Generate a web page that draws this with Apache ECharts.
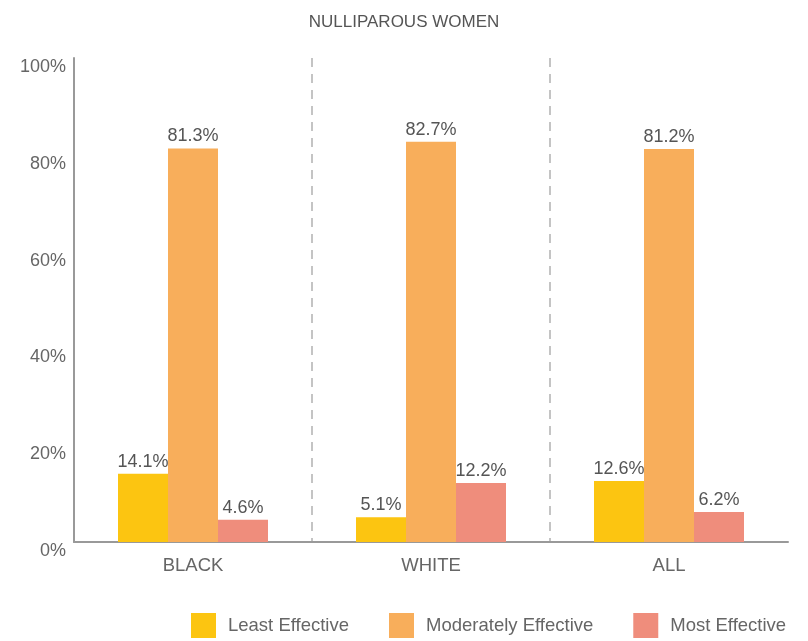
<!DOCTYPE html>
<html>
<head>
<meta charset="utf-8">
<script src="https://cdn.jsdelivr.net/npm/echarts@6/dist/echarts.min.js"></script>
<style>
  html, body { margin: 0; padding: 0; background: #fff; }
  #chart { width: 808px; height: 641px; }
</style>
</head>
<body>
<div id="chart"></div>
<script>
const FONT = "'Liberation Sans', Arial, sans-serif"

// data
const categories = ['BLACK', 'WHITE', 'ALL']
const leastEffective = [14.1, 5.1, 12.6]
const moderatelyEffective = [81.3, 82.7, 81.2]
const mostEffective = [4.6, 12.2, 6.2]
const seriesNames = ['Least Effective', 'Moderately Effective', 'Most Effective']
const seriesColors = ['#FCC511', '#F8AE5B', '#EF8D7C']

const chart = echarts.init(document.getElementById('chart'))

const makeBar = (name, values, color) => ({
  name,
  type: 'bar',
  barWidth: 50,
  barGap: '0%',
  itemStyle: { color },
  label: {
    show: true,
    position: 'top',
    distance: 3,
    formatter: p => p.value.toFixed(1) + '%',
    color: '#555',
    fontSize: 18,
    fontFamily: FONT,
  },
  data: values,
})

chart.setOption({
  animation: false,
  title: {
    text: 'NULLIPAROUS WOMEN',
    left: 'center',
    top: 9,
    textStyle: { color: '#555', fontSize: 17, fontWeight: 'normal', fontFamily: FONT },
  },
  legend: {
    data: seriesNames,
    left: 191,
    top: 613,
    padding: 0,
    icon: 'rect',
    itemWidth: 25,
    itemHeight: 25,
    itemGap: 40,
    textStyle: { color: '#666', fontSize: 18.5, fontFamily: FONT, padding: [0, 0, 0, 7] },
  },
  grid: { left: 74, right: 20, top: 58, bottom: 99 },
  xAxis: {
    type: 'category',
    data: categories,
    axisLine: { lineStyle: { color: '#999', width: 2 } },
    axisTick: { show: false },
    axisLabel: { color: '#666', fontSize: 18.5, fontFamily: FONT, margin: 14 },
    splitLine: {
      show: true,
      showMinLine: false,
      showMaxLine: false,
      lineStyle: { color: '#c4c4c4', width: 2, type: [9, 7] },
    },
  },
  yAxis: {
    type: 'value',
    min: 0,
    max: 100,
    interval: 20,
    axisLine: { show: true, lineStyle: { color: '#999', width: 2 } },
    axisTick: { show: false },
    splitLine: { show: false },
    axisLabel: {
      color: '#666',
      fontSize: 18,
      fontFamily: FONT,
      margin: 8,
      verticalAlign: 'top',
      formatter: '{value}%',
    },
  },
  series: [
    makeBar(seriesNames[0], leastEffective, seriesColors[0]),
    makeBar(seriesNames[1], moderatelyEffective, seriesColors[1]),
    makeBar(seriesNames[2], mostEffective, seriesColors[2]),
  ],
})
</script>
</body>
</html>
